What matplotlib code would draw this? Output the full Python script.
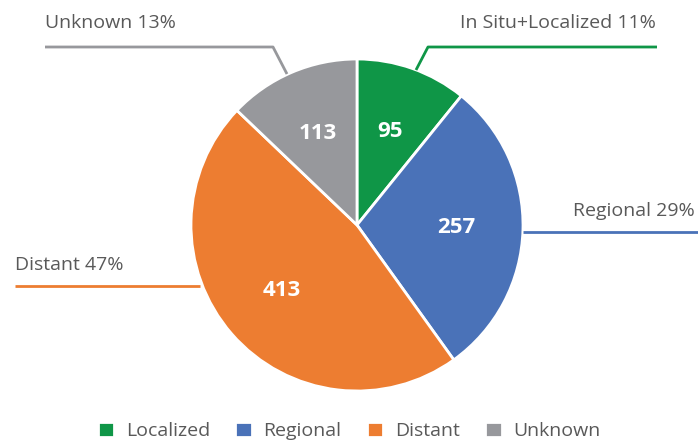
import matplotlib.pyplot as plt

# Stage distribution
categories = ['Localized', 'Regional', 'Distant', 'Unknown']
outer_names = ['In Situ+Localized', 'Regional', 'Distant', 'Unknown']
counts = [95, 257, 413, 113]
colors = ['#0f9647', '#4a72b8', '#ed7d31', '#97989c']

total = sum(counts)
pcts = [round(c / total * 100) for c in counts]

plt.rcParams['font.family'] = ['Open Sans', 'DejaVu Sans']
text_color = '#595959'

fig = plt.figure(figsize=(6.98, 4.43), dpi=100)
ax = fig.add_axes([0, 0, 1, 1])

# pixel-like coordinates, y going up
H = 443
cx, cy, R = 357, H - 225, 166

wedges, _, autotexts = ax.pie(
    counts, colors=colors, startangle=90, counterclock=False,
    center=(cx, cy), radius=R,
    autopct=lambda p: f"{round(p * total / 100)}", pctdistance=0.6,
    wedgeprops=dict(edgecolor='white', linewidth=2),
    textprops=dict(color='white', fontsize=16, fontweight='bold'))

ax.set_xlim(0, 698)
ax.set_ylim(0, H)
ax.set_aspect('equal')
ax.axis('off')

# leader lines (x, y in screen pixels from top)
leaders = [
    [(416, 70), (428, 47), (657, 47)],
    [(523, 232), (698, 232)],
    [(200, 286), (15, 286)],
    [(287, 74), (273, 47), (45, 47)],
]
label_pos = [(656, 23, 'right'), (695, 211, 'right'), (15, 265, 'left'), (45, 23, 'left')]

for i, pts in enumerate(leaders):
    xs = [p[0] for p in pts]
    ys = [H - p[1] for p in pts]
    ax.plot(xs, ys, color=colors[i], lw=2, solid_capstyle='butt')
    x, y, ha = label_pos[i]
    ax.text(x, H - y, f"{outer_names[i]} {pcts[i]}%", ha=ha, va='center',
            fontsize=14, color=text_color)

fig.legend(wedges, categories, loc='center', bbox_to_anchor=(0.5, 1 - 431 / H),
           ncol=4, frameon=False, fontsize=14, labelcolor=text_color,
           handlelength=0.85, handleheight=0.85, handletextpad=0.6,
           columnspacing=1.3)

fig.savefig('out.png', dpi=100)
